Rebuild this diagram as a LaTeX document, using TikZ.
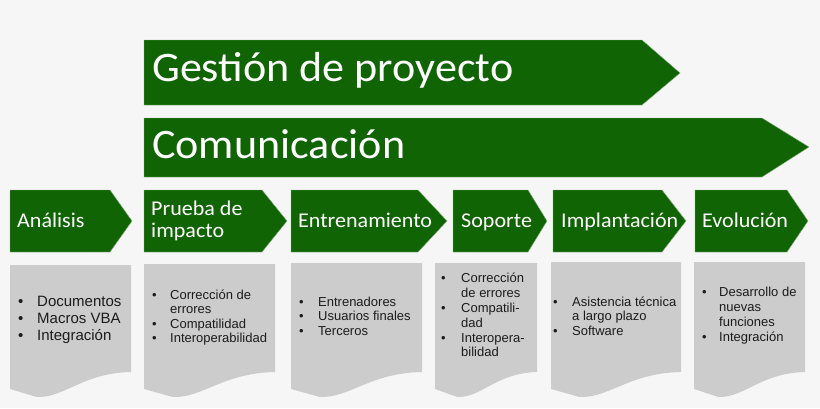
\documentclass[tikz,border=0pt]{standalone}
\usepackage{fontspec}
\setmainfont{Liberation Sans}
\newfontfamily\cabecera[FakeStretch=1.05]{Carlito}
\usetikzlibrary{calc}
\definecolor{verdefase}{RGB}{16,100,4}
\definecolor{bordeverde}{RGB}{130,180,120}
\definecolor{grisdoc}{RGB}{204,204,204}
\definecolor{fondo}{RGB}{246,246,246}
\definecolor{textodoc}{RGB}{28,28,28}
\tikzset{
  flecha/.style={fill=verdefase,draw=bordeverde,line width=0.4pt},
  documento/.style={fill=grisdoc},
  titulo/.style={anchor=base west,inner sep=0pt,text=white,font=\cabecera\fontsize{42}{42}\selectfont},
  fase/.style={anchor=base west,inner sep=0pt,text=white,align=left,font=\cabecera\fontsize{21}{22}\selectfont},
  lista/.style={anchor=west,inner sep=0pt,text=textodoc}
}
\newcommand{\punto}{\textbullet}

\begin{document}
\begin{tikzpicture}[x=1pt,y=-1pt]
  \fill[fondo] (0,0) rectangle (820,408);
  \useasboundingbox (0,0) rectangle (820,408);

  % barras de arriba
  \fill[flecha] (144,40) -- (642,40) -- (680,73) -- (642,105) -- (144,105) -- cycle;
  \node[titulo] (gestion) at (152,81) {Gestión de proyecto};
  \fill[flecha] (144,118) -- (762,118) -- (809,147) -- (762,177) -- (144,177) -- cycle;
  \node[titulo] (comunicacion) at (152,158) {Comunicación};

  % fases
  \foreach \l/\c/\p in {10/110/132, 144/262/287, 291/418/447, 453/528/547, 553/662/686, 695/787/808}
    \fill[flecha] (\l,190) -- (\c,190) -- (\p,221) -- (\c,252) -- (\l,252) -- cycle;
  \node[fase] (analisis) at (17,227) {Análisis};
  \node[fase] (prueba) at (151,237) {Prueba de\\impacto};
  \node[fase] (entrenamiento) at (298,227) {Entrenamiento};
  \node[fase] (soporte) at (461,227) {Soporte};
  \node[fase] (implantacion) at (561,227) {Implantación};
  \node[fase] (evolucion) at (702,227) {Evolución};

  % documentos
  \foreach \l/\r/\t in {10/131/265, 144/275/264, 291/422/263, 435/537/263, 551/681/262, 694/805/262}
    \fill[documento] (\l,\t) -- (\r,\t) -- (\r,372)
      .. controls ({\l+0.6*(\r-\l)},373) and ({\l+0.45*(\r-\l)},398) .. ({\l+0.22*(\r-\l)},397)
      -- (\l,389) -- cycle;

  \node[lista,font=\fontsize{15}{17}\selectfont] (docanalisis) at (18,320)
    {\begin{tabular}{@{}p{19pt}@{}l@{}}\punto & Documentos\\ \punto & Macros VBA\\ \punto & Integración\end{tabular}};
  \node[lista,font=\fontsize{13}{14.6}\selectfont] (docprueba) at (152,318)
    {\begin{tabular}{@{}p{18pt}@{}l@{}}\punto & Corrección de\\ & errores\\ \punto & Compatilidad\\ \punto & Interoperabilidad\end{tabular}};
  \node[lista,font=\fontsize{13}{14.6}\selectfont] (docentrenamiento) at (299,318)
    {\begin{tabular}{@{}p{19pt}@{}l@{}}\punto & Entrenadores\\ \punto & Usuarios finales\\ \punto & Terceros\end{tabular}};
  \node[lista,font=\fontsize{13}{14.8}\selectfont] (docsoporte) at (441,317)
    {\begin{tabular}{@{}p{20pt}@{}l@{}}\punto & Corrección\\ & de errores\\ \punto & Compatili-\\ & dad\\ \punto & Interopera-\\ & bilidad\end{tabular}};
  \node[lista,font=\fontsize{13}{14.8}\selectfont] (docimplantacion) at (553,318)
    {\begin{tabular}{@{}p{19pt}@{}l@{}}\punto & Asistencia técnica\\ & a largo plazo\\ \punto & Software\end{tabular}};
  \node[lista,font=\fontsize{13}{14.8}\selectfont] (docevolucion) at (702,316)
    {\begin{tabular}{@{}p{17pt}@{}l@{}}\punto & Desarrollo de\\ & nuevas\\ & funciones\\ \punto & Integración\end{tabular}};
\end{tikzpicture}
\end{document}
